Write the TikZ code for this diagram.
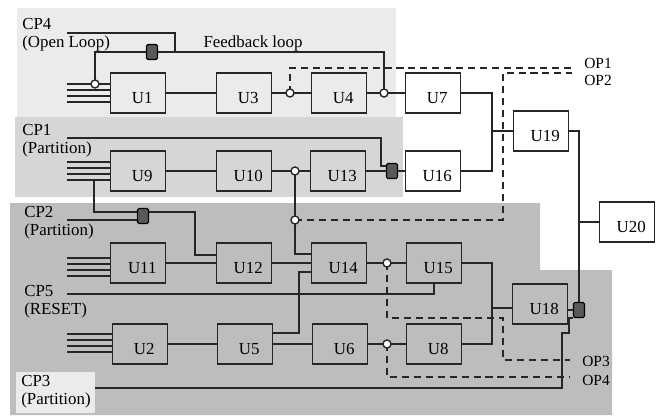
\documentclass[tikz,border=0pt]{standalone}
\usepackage{fontspec}
\setmainfont{Liberation Serif}

\begin{document}
\begin{tikzpicture}[x=0.025cm,y=-0.025cm,font=\fontsize{12}{13}\selectfont]
    \tikzstyle{unit}=[draw=black!85, line width=1.2pt, minimum width=1.375cm,
        minimum height=1cm, inner sep=0pt, text height=15pt, text depth=0pt,
        execute at begin node=\hspace{6pt}]
    \tikzstyle{tap}=[draw=black!85, fill=white, circle, line width=1pt,
        minimum size=0.2cm, inner sep=0pt]
    \tikzstyle{switch}=[draw=black, fill=black!65, rounded corners=1pt, line width=0.8pt,
        minimum width=0.275cm, minimum height=0.375cm, inner sep=0pt]
    \tikzstyle{wire}=[draw=black!85, line width=1.2pt]
    \tikzstyle{op}=[wire, dash pattern=on 5pt off 3.5pt]
    \tikzstyle{cp}=[align=left, anchor=west, inner sep=0pt]
    \tikzstyle{oplabel}=[anchor=west, inner sep=0pt, font=\fontsize{11}{12}\selectfont]

    \useasboundingbox (0,0) rectangle (656,415);

    % Partition areas
    \fill[black!8] (17,8) rectangle (396,117);
    \fill[black!16] (15,117) rectangle (403,197);
    \fill[black!26] (10,203) -- (540,203) -- (540,270) -- (612,270)
        -- (612,415) -- (10,415) -- cycle;
    \fill[black!8] (16,372) rectangle (95,413);

    % Control inputs
    \node[cp] (cp4) at (22,35) {CP4\\(Open Loop)};
    \node[cp] (cp1) at (22,141) {CP1\\(Partition)};
    \node[cp] (cp2) at (24,223) {CP2\\(Partition)};
    \node[cp] (cp5) at (24,302) {CP5\\(RESET)};
    \node[cp] (cp3) at (21,392) {CP3\\(Partition)};
    \node (fblabel) at (253,43) {Feedback loop};

    % Units
    \node[unit] (u1) at (138,93) {U1};
    \node[unit] (u3) at (244,93) {U3};
    \node[unit] (u4) at (339,93) {U4};
    \node[unit] (u7) at (433,93) {U7};
    \node[unit] (u9) at (138,171) {U9};
    \node[unit] (u10) at (244,171) {U10};
    \node[unit] (u13) at (338,171) {U13};
    \node[unit] (u16) at (433,171) {U16};
    \node[unit] (u11) at (138,263) {U11};
    \node[unit] (u12) at (244,263) {U12};
    \node[unit] (u14) at (339,263) {U14};
    \node[unit] (u15) at (434,263) {U15};
    \node[unit] (u2) at (140,344) {U2};
    \node[unit] (u5) at (245,344) {U5};
    \node[unit] (u6) at (340,344) {U6};
    \node[unit] (u8) at (434,344) {U8};
    \node[unit] (u18) at (540,304) {U18};
    \node[unit] (u19) at (541,131) {U19};
    \node[unit] (u20) at (627,222) {U20};

    % Switches
    \node[switch] (s1) at (152,52) {};
    \node[switch] (s2) at (392,171) {};
    \node[switch] (s3) at (143,216) {};
    \node[switch] (s4) at (579,310) {};

    % Input buses
    \foreach \n/\y in {u1/84, u9/162, u11/258, u2/334} {
        \foreach \k in {0,...,3} {
            \coordinate (in-\n-\k) at (67,\y+6*\k);
            \draw[wire] (in-\n-\k) -- (in-\n-\k -| \n.west);
        }
    }

    % Observation points (dashed)
    \coordinate (op1) at (572,68);
    \coordinate (k7) at (503,220);
    \coordinate (k7b) at (503,73);
    \coordinate (op2) at (572,73);
    \coordinate (k8) at (387,318);
    \coordinate (k8b) at (503,318);
    \coordinate (op3) at (570,360);
    \coordinate (op4) at (570,377);
    \draw[op] (290,93) |- (op1);
    \draw[op] (295,220) -- (k7) -- (k7b) -- (op2);
    \draw[op] (387,263) -- (k8) -- (k8b) |- (op3);
    \draw[op] (387,344) |- (op4);
    \node[oplabel] (op1l) at (584,63) {OP1};
    \node[oplabel] (op2l) at (584,80) {OP2};
    \node[oplabel] (op3l) at (582,361) {OP3};
    \node[oplabel] (op4l) at (582,380) {OP4};

    % Data path
    \draw[wire] (u1) -- (u3);
    \draw[wire] (u3) -- (u4);
    \draw[wire] (u4) -- (u7);
    \draw[wire] (u9) -- (u10);
    \draw[wire] (u10) -- (u13);
    \draw[wire] (u13) -- (s2) -- (u16);
    \draw[wire] (u11) -- (u12);
    \draw[wire] (u12) -- (u14);
    \draw[wire] (u14) -- (u15);
    \draw[wire] (u2) -- (u5);
    \draw[wire] (u5) -- (u6);
    \draw[wire] (u6) -- (u8);

    \coordinate (k5a) at (299,333);
    \coordinate (k5b) at (299,272);
    \draw[wire] (k5a -| u5.east) -- (k5a) -- (k5b) -- (k5b -| u14.west);

    \coordinate (m1) at (492,131);
    \coordinate (m2) at (492,308);
    \draw[wire] (u7.east) -| (m1);
    \draw[wire] (u16.east) -| (m1);
    \draw[wire] (m1) -- (u19.west);
    \draw[wire] (u15.east) -| (m2);
    \draw[wire] (u8.east) -| (m2);
    \draw[wire] (m2) -- (m2 -| u18.west);
    \draw[wire] (s4 -| u18.east) -- (s4);
    \draw[wire] (u19.east) -| (s4.north);
    \draw[wire] (s4.north |- u20.west) -- (u20.west);

    % Control lines
    \coordinate (cp4in) at (67,33);
    \coordinate (fbk) at (175,52);
    \draw[wire] (cp4in) -| (fbk);
    \draw[wire] (95,84) |- (s1);
    \draw[wire] (s1) -| (384,93);

    \coordinate (cp1in) at (67,138);
    \coordinate (k1) at (381,166);
    \draw[wire] (cp1in) -| (k1) -- (k1 -| s2.west);

    \coordinate (cp2in) at (67,220);
    \coordinate (k9) at (94,180);
    \coordinate (k9b) at (94,212);
    \coordinate (k3) at (195,212);
    \coordinate (k3b) at (195,255);
    \draw[wire] (cp2in) -- (cp2in -| s3.west);
    \draw[wire] (k9) -- (k9b) -- (k9b -| s3.west);
    \draw[wire] (k3 -| s3.east) -- (k3) -- (k3b) -- (k3b -| u12.west);

    \coordinate (k4) at (295,254);
    \draw[wire] (295,171) -- (295,220) -- (k4) -- (k4 -| u14.west);

    \coordinate (cp5in) at (67,294);
    \draw[wire] (cp5in) -| (u15.south);

    \coordinate (cp3in) at (95,388);
    \coordinate (k6) at (562,333);
    \coordinate (k6b) at (569,333);
    \draw[wire] (cp3in) -| (k6) -- (k6b) |- (s4.south west);

    % Taps
    \node[tap] (t1) at (95,84) {};
    \node[tap] (t2) at (290,93) {};
    \node[tap] (t3) at (384,93) {};
    \node[tap] (t4) at (295,171) {};
    \node[tap] (t5) at (295,220) {};
    \node[tap] (t6) at (387,263) {};
    \node[tap] (t7) at (387,344) {};
\end{tikzpicture}
\end{document}
